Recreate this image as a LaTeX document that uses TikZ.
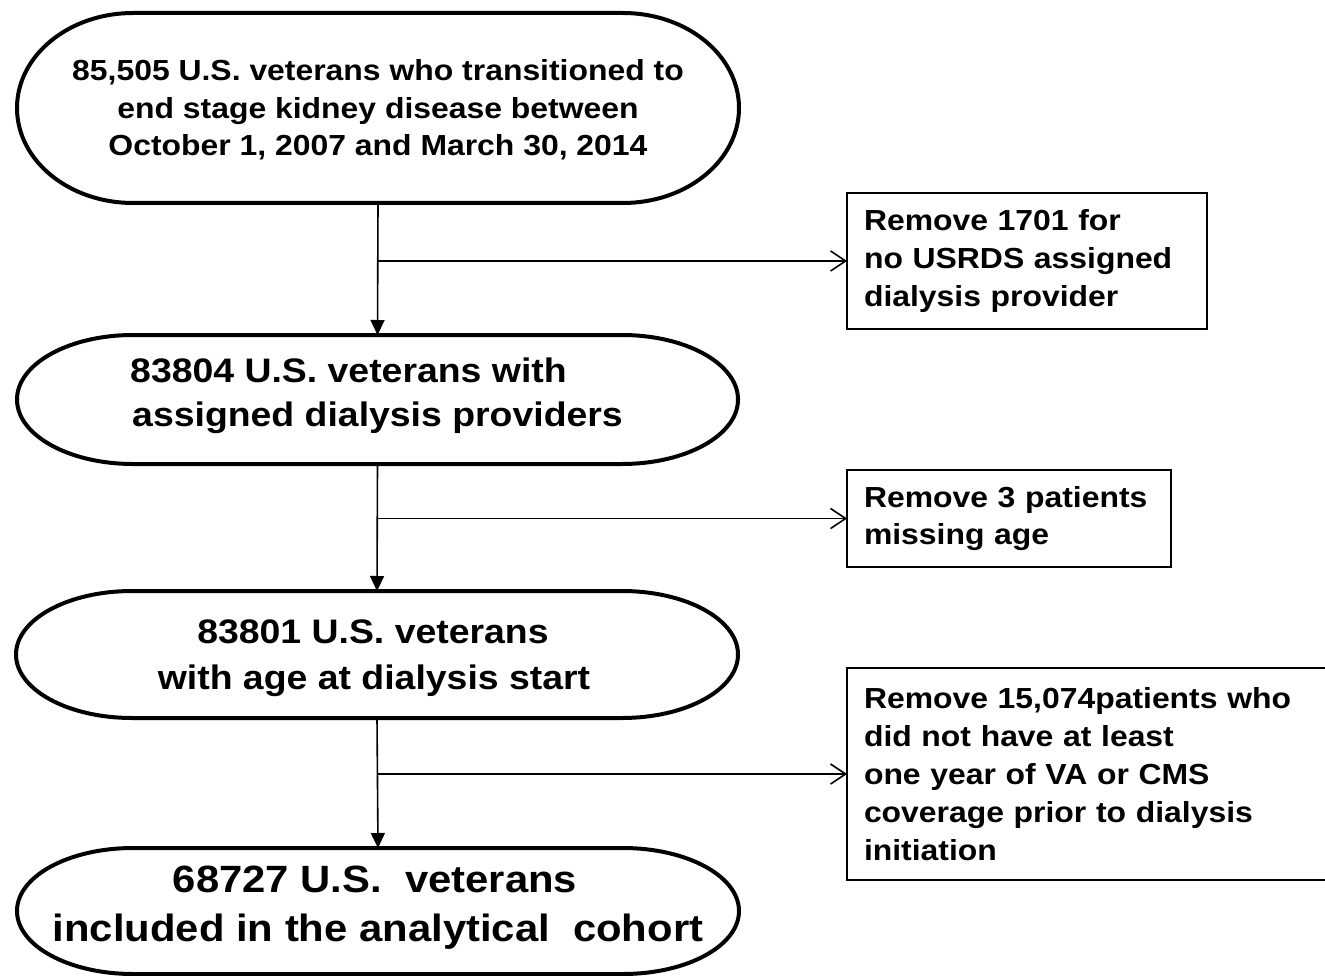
\documentclass[tikz,border=0pt]{standalone}
\usepackage{fontspec}
\setmainfont{Liberation Sans}[FakeStretch=1.1]
\usetikzlibrary{arrows.meta}
\tikzset{
  termbox/.style={draw=none, outer sep=0pt, inner sep=0pt},
  termtext/.style={inner sep=0pt, align=center},
  termline/.style={line width=4pt, black},
  sidebox/.style={draw, line width=1.8pt, outer sep=0pt, inner xsep=17pt, inner ysep=0pt, align=left, anchor=north west},
  mainarrow/.style={line width=1.6pt, -{Triangle[width=14pt,length=15pt]}},
  sidearrow/.style={line width=1.6pt, -{Straight Barb[width=20pt,length=15pt,line width=1.6pt]}},
}
\newcommand\termborder[3]{%
  \draw[termline] ([xshift=#2]#1.north west) -- ([xshift=-#2]#1.north east)
    arc[start angle=90,end angle=-90,x radius=#2,y radius=#3]
    -- ([xshift=#2]#1.south west)
    arc[start angle=270,end angle=90,x radius=#2,y radius=#3] -- cycle;}
\begin{document}
\begin{tikzpicture}[x=1pt,y=-1pt]
\useasboundingbox (0,0) rectangle (1325,976);
% terminators
\node[termbox, minimum width=722pt, minimum height=190pt] (t1) at (378,108) {};
\node[termbox, minimum width=721pt, minimum height=129pt] (t2) at (377.5,399.5) {};
\node[termbox, minimum width=722pt, minimum height=127pt] (t3) at (377,654.5) {};
\node[termbox, minimum width=722pt, minimum height=126pt] (t4) at (378,911) {};
\termborder{t1}{116pt}{95pt}
\termborder{t2}{116pt}{64.5pt}
\termborder{t3}{116pt}{63.5pt}
\termborder{t4}{116pt}{63pt}
\node[termtext, font=\bfseries\fontsize{29pt}{37.5pt}\selectfont] (t1l) at ([yshift=-2pt]t1.center)
  {85,505 U.S. veterans who transitioned to\\end stage kidney disease between\\October 1, 2007 and March 30, 2014};
\node[termtext, font=\bfseries\fontsize{34pt}{44pt}\selectfont] (t2l) at ([yshift=4pt]t2.center)
  {83804 U.S. veterans with\hspace*{58pt}\\assigned dialysis providers};
\node[termtext, font=\bfseries\fontsize{34pt}{46pt}\selectfont] (t3l) at ([yshift=-4pt]t3.center)
  {83801 U.S. veterans\hspace*{8pt}\\with age at dialysis start\hspace*{6pt}};
\node[termtext, font=\bfseries\fontsize{38pt}{49pt}\selectfont] (t4l) at ([yshift=3pt]t4.center)
  {68727 U.S.\ \ veterans\hspace*{6pt}\\included in the analytical\ \ cohort};
% side boxes
\node[sidebox, minimum width=360pt, minimum height=136pt, text width=326pt,
      font=\bfseries\fontsize{29pt}{38pt}\selectfont] (r1) at (847,193)
  {Remove 1701 for\\no USRDS assigned\\dialysis provider};
\node[sidebox, minimum width=324pt, minimum height=97pt, text width=290pt,
      font=\bfseries\fontsize{29pt}{37pt}\selectfont] (r2) at (847,470)
  {Remove 3 patients\\missing age};
\node[sidebox, minimum width=490pt, minimum height=212pt, text width=456pt,
      font=\bfseries\fontsize{29pt}{38pt}\selectfont] (r3) at (847,668)
  {Remove 15,074patients who\\did not have at least\\one year of VA or CMS\\coverage prior to dialysis\\initiation};
% connectors
\draw[mainarrow] (t1.south) -- (t2.north);
\draw[mainarrow] (t2.south) -- (t3.north);
\draw[mainarrow] (t3.south) -- (t4.north);
\coordinate (b1) at (t1.south |- r1.west);
\coordinate (b2) at (t2.south |- r2.west);
\coordinate (b3) at (t3.south |- r3.west);
\draw[sidearrow] (b1) -- (r1.west);
\draw[sidearrow] (b2) -- (r2.west);
\draw[sidearrow] (b3) -- (r3.west);
\end{tikzpicture}
\end{document}
